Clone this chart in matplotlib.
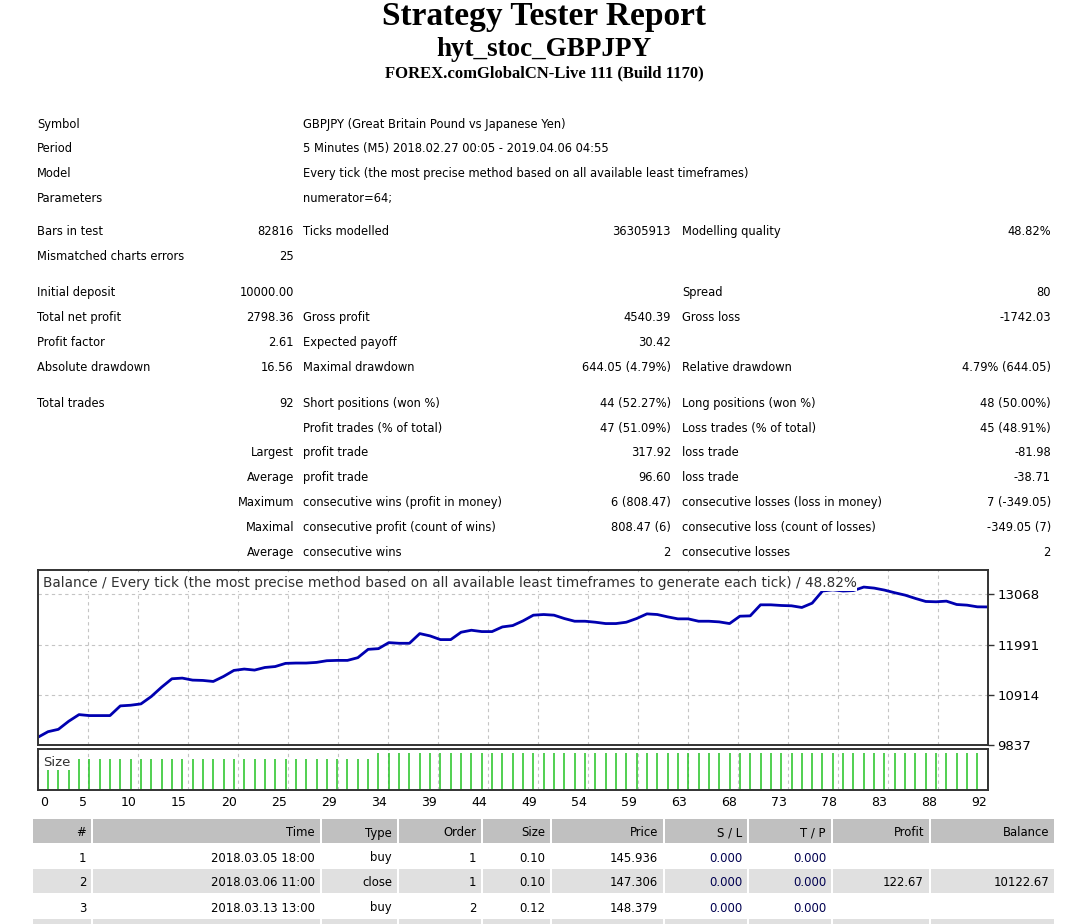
import matplotlib
matplotlib.use('Agg')
import matplotlib.pyplot as plt
from matplotlib.patches import Rectangle
from matplotlib.transforms import offset_copy
import numpy as np

W, H = 1070, 924

# ---- report header
report_title = 'Strategy Tester Report'
expert_name = 'hyt_stoc_GBPJPY'
server_line = 'FOREX.comGlobalCN-Live 111 (Build 1170)'

# ---- summary block: label, value, label, value, label, value
summary_rows = [
    ('Symbol', '', 'GBPJPY (Great Britain Pound vs Japanese Yen)', '', '', ''),
    ('Period', '', '5 Minutes (M5) 2018.02.27 00:05 - 2019.04.06 04:55', '', '', ''),
    ('Model', '', 'Every tick (the most precise method based on all available least timeframes)', '', '', ''),
    ('Parameters', '', 'numerator=64;', '', '', ''),
    ('Bars in test', '82816', 'Ticks modelled', '36305913', 'Modelling quality', '48.82%'),
    ('Mismatched charts errors', '25', '', '', '', ''),
    ('Initial deposit', '10000.00', '', '', 'Spread', '80'),
    ('Total net profit', '2798.36', 'Gross profit', '4540.39', 'Gross loss', '-1742.03'),
    ('Profit factor', '2.61', 'Expected payoff', '30.42', '', ''),
    ('Absolute drawdown', '16.56', 'Maximal drawdown', '644.05 (4.79%)', 'Relative drawdown', '4.79% (644.05)'),
    ('Total trades', '92', 'Short positions (won %)', '44 (52.27%)', 'Long positions (won %)', '48 (50.00%)'),
    ('', '', 'Profit trades (% of total)', '47 (51.09%)', 'Loss trades (% of total)', '45 (48.91%)'),
    ('', 'Largest', 'profit trade', '317.92', 'loss trade', '-81.98'),
    ('', 'Average', 'profit trade', '96.60', 'loss trade', '-38.71'),
    ('', 'Maximum', 'consecutive wins (profit in money)', '6 (808.47)', 'consecutive losses (loss in money)', '7 (-349.05)'),
    ('', 'Maximal', 'consecutive profit (count of wins)', '808.47 (6)', 'consecutive loss (count of losses)', '-349.05 (7)'),
    ('', 'Average', 'consecutive wins', '2', 'consecutive losses', '2'),
]
summary_y = [123, 147, 172, 197, 230, 255, 291, 316, 341, 366, 402, 427, 451, 476, 501, 526, 551]

# ---- balance curve, one point per trade (0 = initial deposit)
balance = [
    10000.00, 10122.67, 10173, 10346, 10489, 10468, 10468, 10468, 10676, 10690,
    10719, 10877, 11078, 11258, 11272, 11229, 11222, 11200, 11308, 11437,
    11466, 11444, 11500, 11520, 11588, 11595, 11595, 11609, 11645, 11652,
    11652, 11710, 11889, 11904, 12033, 12019, 12019, 12227, 12177, 12098,
    12098, 12256, 12299, 12270, 12270, 12370, 12399, 12500, 12622, 12636,
    12622, 12550, 12492, 12492, 12471, 12442, 12442, 12471, 12550, 12650,
    12636, 12586, 12543, 12543, 12492, 12492, 12478, 12442, 12600, 12607,
    12844, 12844, 12830, 12823, 12787, 12880, 13140, 13165, 13140, 13150,
    13225, 13203, 13160, 13103, 13052, 12981, 12916, 12909, 12923, 12851,
    12837, 12801, 12798.36,
]
# lot size of trades 1..92
trade_size = [
    0.10, 0.10, 0.10, 0.12, 0.12, 0.12, 0.12, 0.12, 0.12, 0.12,
    0.12, 0.12, 0.12, 0.12, 0.12, 0.12, 0.12, 0.12, 0.12, 0.12,
    0.12, 0.12, 0.12, 0.12, 0.12, 0.12, 0.12, 0.12, 0.12, 0.12,
    0.12, 0.12, 0.13, 0.13, 0.13, 0.13, 0.13, 0.13, 0.13, 0.13,
    0.13, 0.13, 0.13, 0.13, 0.13, 0.13, 0.13, 0.13, 0.13, 0.13,
    0.13, 0.13, 0.13, 0.13, 0.13, 0.13, 0.13, 0.13, 0.13, 0.13,
    0.13, 0.13, 0.13, 0.13, 0.13, 0.13, 0.13, 0.13, 0.13, 0.13,
    0.13, 0.13, 0.13, 0.13, 0.13, 0.13, 0.13, 0.13, 0.13, 0.13,
    0.13, 0.13, 0.13, 0.13, 0.13, 0.13, 0.13, 0.13, 0.13, 0.13,
    0.13, 0.13,
]
x_tick_labels = ['0', '5', '10', '15', '20', '25', '29', '34', '39', '44',
                 '49', '54', '59', '63', '68', '73', '78', '83', '88', '92']
y_ticks = [9837, 10914, 11991, 13068]
chart_caption = ('Balance / Every tick (the most precise method based on all '
                 'available least timeframes to generate each tick) / 48.82%')

# ---- trade list (first rows)
trade_header = ['#', 'Time', 'Type', 'Order', 'Size', 'Price', 'S / L', 'T / P', 'Profit', 'Balance']
trade_rows = [
    ['1', '2018.03.05 18:00', 'buy', '1', '0.10', '145.936', '0.000', '0.000', '', ''],
    ['2', '2018.03.06 11:00', 'close', '1', '0.10', '147.306', '0.000', '0.000', '122.67', '10122.67'],
    ['3', '2018.03.13 13:00', 'buy', '2', '0.12', '148.379', '0.000', '0.000', '', ''],
]

FONT = 'DejaVu Sans'


def frac(x, y):
    return x / W, 1 - y / H


def rect(x0, y0, x1, y1):
    return [x0 / W, 1 - y1 / H, (x1 - x0) / W, (y1 - y0) / H]


fig = plt.figure(figsize=(W / 100, H / 100), dpi=100)
fig.patch.set_facecolor('white')

# page layer in pixel units
page = fig.add_axes([0, 0, 1, 1])
page.set_xlim(0, W)
page.set_ylim(H, 0)
page.axis('off')

page.text(544, 17, report_title, ha='center', va='center', fontsize=24,
          fontweight='bold', family='Liberation Serif')
page.text(544, 49, expert_name, ha='center', va='center', fontsize=19.5,
          fontweight='bold', family='Liberation Serif')
page.text(544, 73, server_line, ha='center', va='center', fontsize=12,
          fontweight='bold', family='Liberation Serif')

col_x = [37, 294, 303, 671, 682, 1051]
col_ha = ['left', 'right', 'left', 'right', 'left', 'right']
for y, row in zip(summary_y, summary_rows):
    for txt, x, ha in zip(row, col_x, col_ha):
        if txt:
            page.text(x, y, txt, ha=ha, va='center_baseline', fontsize=8.3, family=FONT)

# trade list table
col_edges = [33, 93, 322, 399, 483, 552, 665, 749, 833, 931, 1056]
row_top = 819
row_h = 25
fills = ['#c0c0c0', 'white', '#e0e0e0', 'white', '#e0e0e0']
for r, fc in enumerate(fills):
    y0 = row_top + r * row_h
    for c in range(len(col_edges) - 1):
        page.add_patch(Rectangle((col_edges[c], y0), col_edges[c + 1] - col_edges[c] - 2,
                                 row_h - 1, facecolor=fc, edgecolor='none'))
for r, row in enumerate([trade_header] + trade_rows):
    yc = row_top + r * row_h + row_h / 2
    for c, txt in enumerate(row):
        if txt:
            color = '#000050' if c in (6, 7) and r > 0 else 'black'
            page.text(col_edges[c + 1] - 7, yc, txt, ha='right', va='center_baseline',
                      fontsize=8.4, family=FONT, color=color)

# ---- balance chart
frame_c = '#333333'
grid_c = '#c4c4c4'
n = len(trade_size)
xt = np.linspace(0, n, len(x_tick_labels))

ax = fig.add_axes(rect(37.7, 570, 987.7, 745))
ax.plot(np.arange(len(balance)), balance, color='#0000b0', lw=2.0, solid_joinstyle='round')
ax.set_xlim(0, n)
ax.set_ylim(9837, 13591)
ax.set_yticks(y_ticks)
ax.set_yticklabels([str(v) for v in y_ticks], family=FONT, fontsize=9.5)
ax.yaxis.tick_right()
ax.tick_params(axis='y', length=4, width=1, color=frame_c, pad=3)
ax.set_xticks(xt[1:-1])
ax.tick_params(axis='x', length=0, labelbottom=False)
ax.grid(True, color=grid_c, ls=(0, (3, 3)), lw=0.8)
for s in ax.spines.values():
    s.set_color(frame_c)
    s.set_linewidth(1.4)

# ---- size panel
axs = fig.add_axes(rect(37.7, 749, 987.7, 789.5))
axs.vlines(np.arange(1, n + 1), 0, trade_size, color='#22c422', lw=1.1)
axs.set_xlim(0, n)
axs.set_ylim(0.0655, 0.137)
axs.set_yticks([])
axs.set_xticks(xt)
axs.set_xticklabels(x_tick_labels, family=FONT, fontsize=9)
axs.tick_params(axis='x', length=0, pad=5)
axs.grid(True, axis='x', color=grid_c, ls=(0, (3, 3)), lw=0.8)
for s in axs.spines.values():
    s.set_color(frame_c)
    s.set_linewidth(1.4)
labels = axs.get_xticklabels()
for i, lab in enumerate(labels):
    if i == 0:
        lab.set_ha('left')
        lab.set_transform(offset_copy(lab.get_transform(), fig=fig, x=2, y=0, units='dots'))
    else:
        lab.set_ha('right')
        lab.set_transform(offset_copy(lab.get_transform(), fig=fig, x=-1, y=0, units='dots'))

# captions on top of the panels
fig.text(*frac(43, 581.5), chart_caption, ha='left', va='center_baseline', fontsize=9.8,
         family=FONT, color='#303030',
         bbox=dict(facecolor='white', edgecolor='none', pad=0.4))
fig.text(*frac(43, 761), 'Size', ha='left', va='center_baseline', fontsize=9.5,
         family=FONT, color='#303030')

fig.savefig('out.png', dpi=100, facecolor='white')
